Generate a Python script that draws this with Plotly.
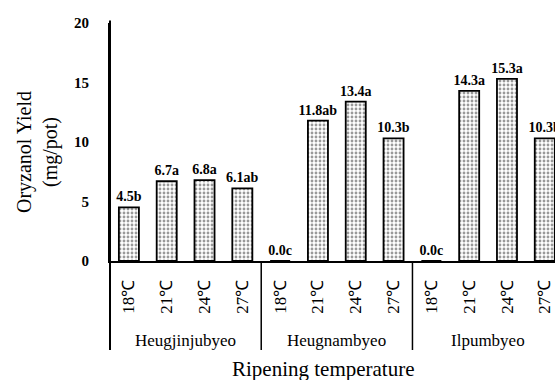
import plotly.graph_objects as go

# Oryzanol yield per pot by cultivar and ripening temperature
cultivars = ["Heugjinjubyeo", "Heugnambyeo", "Ilpumbyeo"]
temperatures = ["18℃", "21℃", "24℃", "27℃"]
yields = [4.5, 6.7, 6.8, 6.1,
          0.0, 11.8, 13.4, 10.3,
          0.0, 14.3, 15.3, 10.3]
letters = ["b", "a", "a", "ab",
           "c", "ab", "a", "b",
           "c", "a", "a", "b"]

n_temp = len(temperatures)
positions = list(range(len(yields)))
tick_text = temperatures * len(cultivars)
bar_labels = [f"{v:.1f}{s}" for v, s in zip(yields, letters)]

FONT = "Liberation Serif"
W, H = 555, 380
ML, MT, MB = 110, 23, 119
x_lo, x_hi = -0.5, 11.27
plot_h = H - MT - MB
plot_w = W - ML
base_y = H - MB


def paper_y(px):
    return (base_y - px) / plot_h


fig = go.Figure(go.Bar(
    x=positions,
    y=yields,
    width=0.53,
    text=bar_labels,
    textposition="outside",
    constraintext="none",
    cliponaxis=False,
    textfont=dict(family=FONT, size=14, color="black", weight="bold"),
    marker=dict(
        color="white",
        line=dict(color="black", width=1.8),
        pattern=dict(shape=".", fgcolor="#333333", bgcolor="white",
                     size=4, solidity=0.4),
    ),
))

fig.update_layout(
    width=W, height=H,
    margin=dict(l=ML, r=0, t=MT, b=MB),
    plot_bgcolor="white", paper_bgcolor="white",
    showlegend=False,
    font=dict(family=FONT, color="black"),
    xaxis=dict(
        range=[x_lo, x_hi],
        tickvals=positions, ticktext=tick_text,
        tickangle=-90,
        ticks="outside", ticklen=10, tickcolor="rgba(0,0,0,0)",
        tickfont=dict(family=FONT, size=17, color="black"),
        showline=True, linecolor="black", linewidth=2,
        showgrid=False, zeroline=False,
    ),
    yaxis=dict(
        range=[0, 20], tickvals=[0, 5, 10, 15, 20],
        ticks="outside", ticklen=16, tickcolor="rgba(0,0,0,0)",
        tickfont=dict(family=FONT, size=15, color="black", weight="bold"),
        showline=True, linecolor="black", linewidth=2,
        showgrid=False, zeroline=False,
    ),
)

# Vertical rules below the axis: left edge and between cultivar groups
rule_bottom = paper_y(350)
fig.add_shape(type="line", xref="paper", yref="paper",
              x0=0, x1=0, y0=1.01, y1=rule_bottom,
              line=dict(color="black", width=2))
for g in range(1, len(cultivars)):
    xs = g * n_temp - 0.5
    fig.add_shape(type="line", xref="x", yref="paper",
                  x0=xs, x1=xs, y0=0, y1=rule_bottom,
                  line=dict(color="black", width=1.5))

# Cultivar names under each group
for g, name in enumerate(cultivars):
    fig.add_annotation(x=g * n_temp + (n_temp - 1) / 2, xref="x",
                       y=paper_y(340), yref="paper",
                       xanchor="center", yanchor="middle",
                       text=name, showarrow=False,
                       font=dict(family=FONT, size=17, color="black"))

# Axis titles
fig.add_annotation(x=(323 - ML) / plot_w, xref="paper",
                   y=paper_y(369), yref="paper",
                   xanchor="center", yanchor="middle",
                   text="Ripening temperature", showarrow=False,
                   font=dict(family=FONT, size=21, color="black"))
fig.add_annotation(x=(37 - ML) / plot_w, xref="paper",
                   y=paper_y(152), yref="paper",
                   xanchor="center", yanchor="middle",
                   text="Oryzanol Yield<br>(mg/pot)", showarrow=False,
                   textangle=-90,
                   font=dict(family=FONT, size=20, color="black"))

fig.write_html("out.html")
